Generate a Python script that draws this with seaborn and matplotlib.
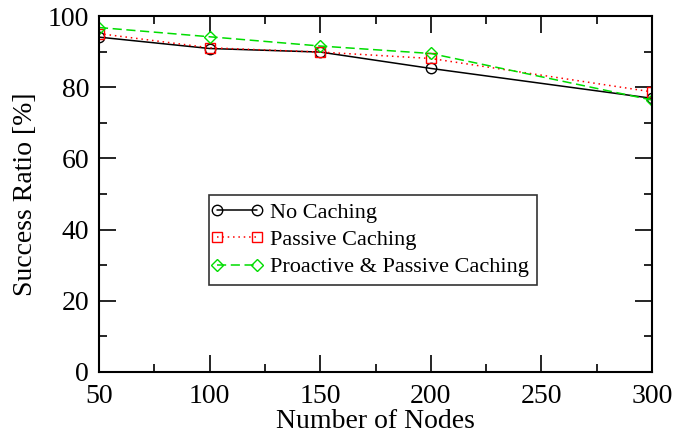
import matplotlib
matplotlib.use("Agg")
import matplotlib.pyplot as plt
import seaborn as sns
import pandas as pd
from matplotlib.ticker import MultipleLocator

nodes = [50, 100, 150, 200, 300]
no_caching = [94.1, 90.9, 89.9, 85.3, 76.9]
passive = [95.1, 91.1, 89.9, 88.1, 78.7]
proactive = [96.8, 94.2, 91.6, 89.5, 76.4]
labels = ["No Caching", "Passive Caching", "Proactive & Passive Caching"]

sns.set_theme(style="white")
plt.rcParams['font.family'] = ['Liberation Serif', 'DejaVu Serif']
plt.rcParams['text.color'] = 'black'
plt.rcParams['axes.labelcolor'] = 'black'
plt.rcParams['xtick.color'] = 'black'
plt.rcParams['ytick.color'] = 'black'

fig = plt.figure(figsize=(6.73, 4.36), dpi=100)
ax = fig.add_axes([0.147, 0.147, 0.822, 0.816])

styles = [
    (no_caching, "black", "-", "o", 7.5),
    (passive, "red", (0, (1, 2.5)), "s", 7),
    (proactive, "#00dd00", (0, (6, 3)), "D", 6.5),
]
for (vals, c, ls, m, ms), lab in zip(styles, labels):
    df = pd.DataFrame({"x": nodes, "y": vals})
    sns.lineplot(data=df, x="x", y="y", ax=ax, color=c, linestyle=ls,
                 marker=m, markersize=ms, markerfacecolor="none",
                 markeredgecolor=c, markeredgewidth=1.0, linewidth=1.1,
                 label=lab)

ax.set_xlim(50, 300)
ax.set_ylim(0, 100)
ax.xaxis.set_major_locator(MultipleLocator(50))
ax.xaxis.set_minor_locator(MultipleLocator(25))
ax.yaxis.set_major_locator(MultipleLocator(20))
ax.yaxis.set_minor_locator(MultipleLocator(10))
ax.tick_params(which="both", direction="in", top=True, right=True,
               bottom=True, left=True, color="black", width=1.2,
               labelcolor="black")
ax.tick_params(which="major", length=12, labelsize=20)
ax.tick_params(axis="x", which="major", pad=9)
ax.tick_params(axis="y", which="major", pad=7)
ax.tick_params(which="minor", length=6)
for s in ax.spines.values():
    s.set_color("black")
    s.set_linewidth(1.5)
ax.set_xlabel("Number of Nodes", fontsize=20, labelpad=0)
ax.set_ylabel("Success Ratio [%]", fontsize=20, labelpad=7)

leg = ax.legend(loc="lower left", bbox_to_anchor=(0.199, 0.244),
                fontsize=16, frameon=True, fancybox=False, borderpad=0.35,
                handlelength=1.8, handletextpad=0.6, labelspacing=0.3,
                borderaxespad=0)
leg.get_frame().set_edgecolor("black")
leg.get_frame().set_linewidth(1.2)
for t in leg.get_texts():
    t.set_color("black")
for h in leg.legend_handles:
    h.set_markevery([0, -1]) if hasattr(h, "set_markevery") else None

fig.savefig("out.png", dpi=100)
